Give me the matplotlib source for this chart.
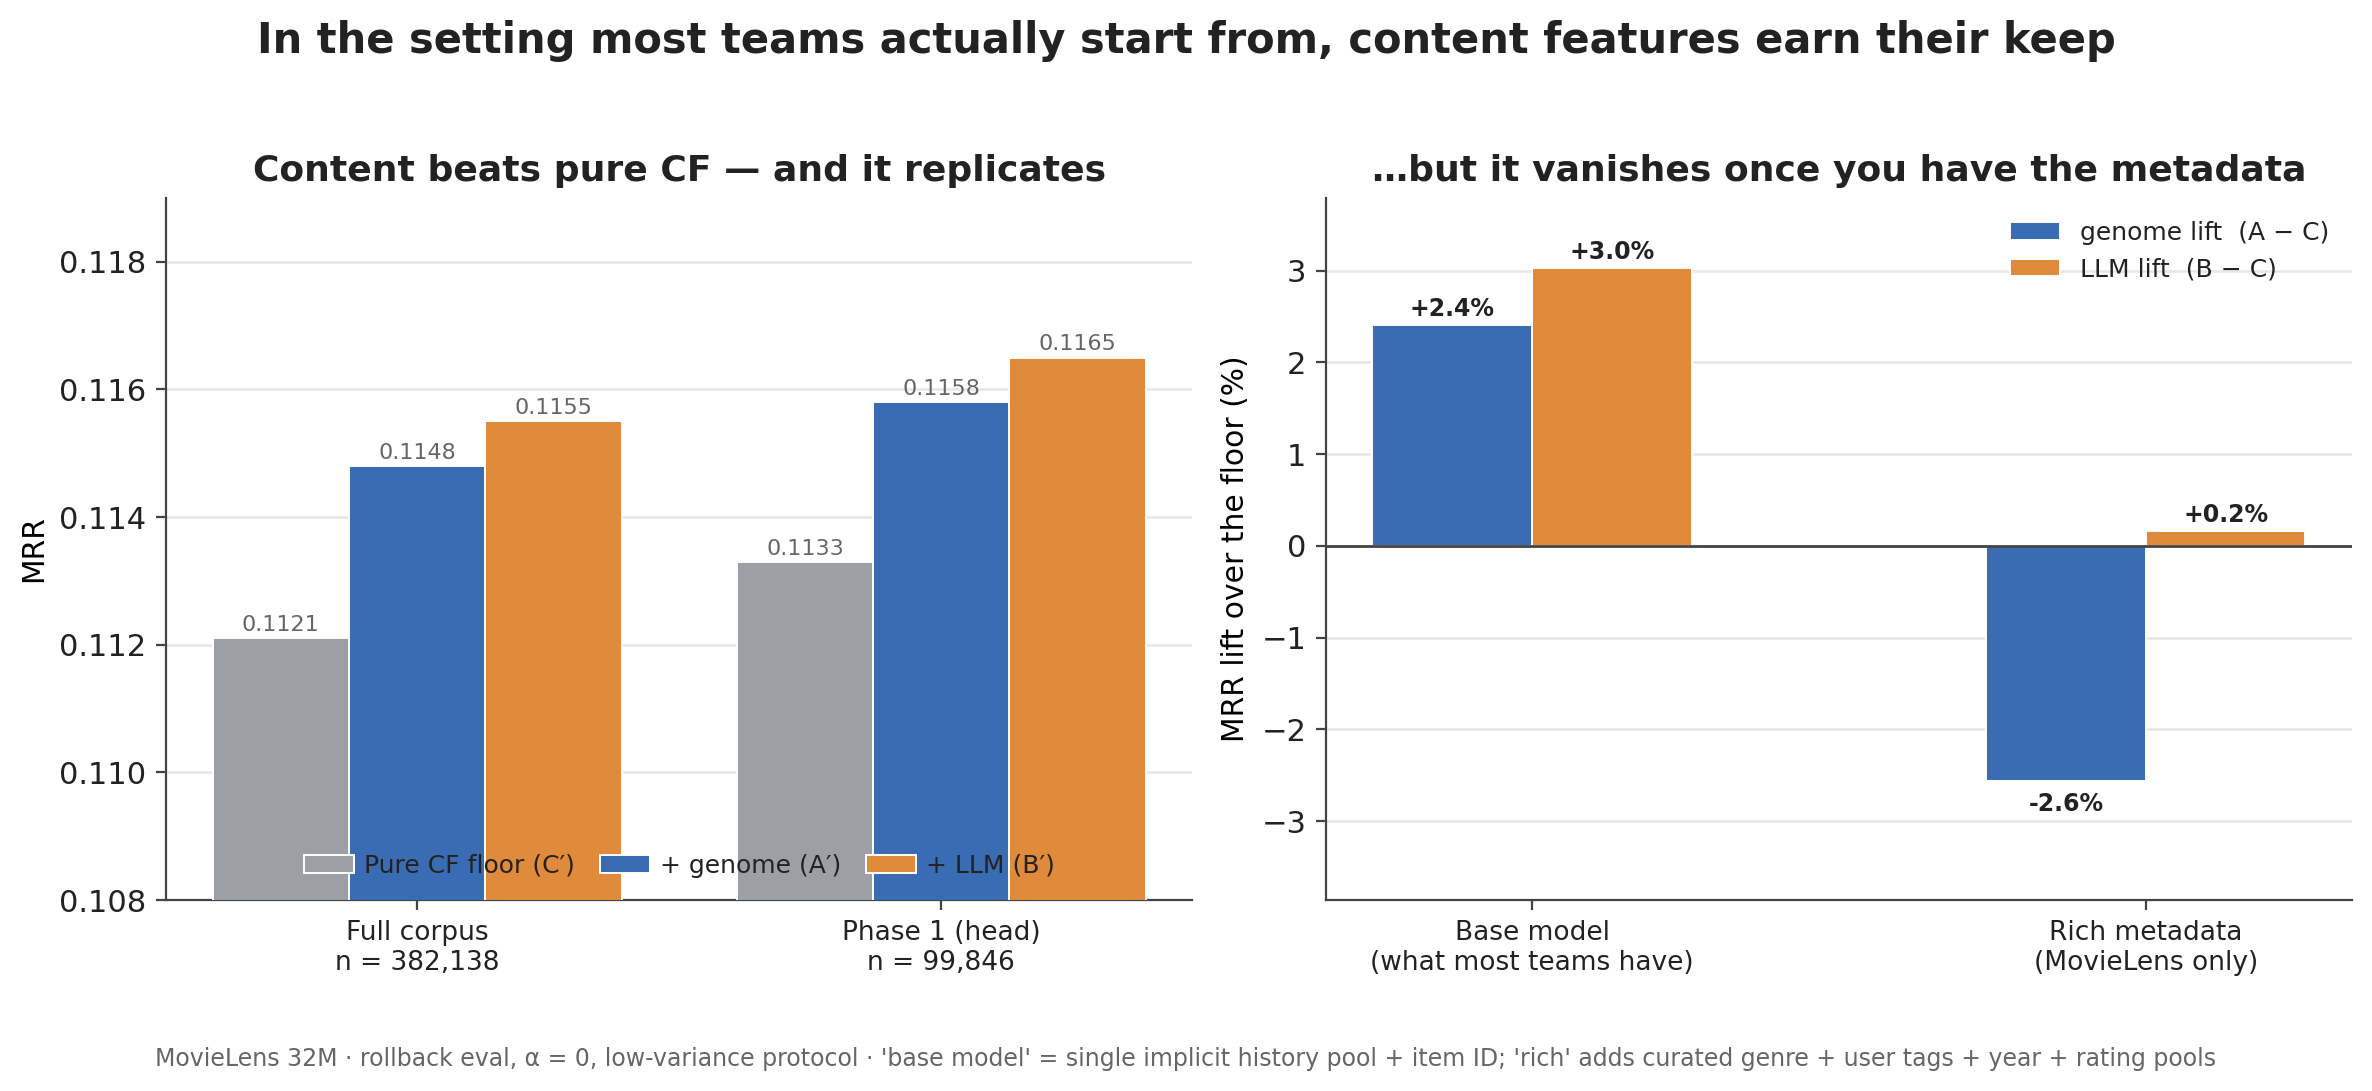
import matplotlib
matplotlib.use("Agg")
import matplotlib.pyplot as plt
import numpy as np

# data
groups_left = ["Full corpus\nn = 382,138", "Phase 1 (head)\nn = 99,846"]
mrr_floor = [0.1121, 0.1133]
mrr_genome = [0.1148, 0.1158]
mrr_llm = [0.1155, 0.1165]
series_left = ["Pure CF floor (C\u2032)", "+ genome (A\u2032)", "+ LLM (B\u2032)"]

groups_right = ["Base model\n(what most teams have)", "Rich metadata\n(MovieLens only)"]
lift_genome = [2.41, -2.56]
lift_llm = [3.03, 0.16]
series_right = ["genome lift  (A \u2212 C)", "LLM lift  (B \u2212 C)"]

GRAY = "#9ca0a6"
BLUE = "#3a6cb4"
ORANGE = "#e08a3c"
TXT = "#222222"

plt.rcParams["font.family"] = ["DejaVu Sans"]
plt.rcParams["text.color"] = TXT
plt.rcParams["axes.edgecolor"] = "#444444"
plt.rcParams["xtick.color"] = "#444444"
plt.rcParams["ytick.color"] = "#444444"
plt.rcParams["xtick.labelcolor"] = TXT
plt.rcParams["ytick.labelcolor"] = TXT

fig, (ax1, ax2) = plt.subplots(1, 2, figsize=(11.86, 5.455), dpi=200)
fig.subplots_adjust(left=0.070, right=0.9916, top=0.8185, bottom=0.175, wspace=0.13)

# ---- left panel
x = np.arange(len(groups_left))
w = 0.26
for vals, off, col, lab in [(mrr_floor, -w, GRAY, series_left[0]),
                            (mrr_genome, 0, BLUE, series_left[1]),
                            (mrr_llm, w, ORANGE, series_left[2])]:
    bars = ax1.bar(x + off, vals, w, color=col, edgecolor="white", linewidth=0.7,
                   label=lab, zorder=3)
    for b, v in zip(bars, vals):
        ax1.text(b.get_x() + b.get_width() / 2, v + 0.00005, f"{v:.4f}",
                 ha="center", va="bottom", fontsize=8, color="#666666")

ax1.set_ylim(0.108, 0.119)
ax1.set_yticks(np.arange(0.108, 0.1185, 0.002))
ax1.yaxis.set_major_formatter(matplotlib.ticker.FormatStrFormatter("%.3f"))
ax1.set_xticks(x)
ax1.set_xticklabels(groups_left, fontsize=9.5)
ax1.tick_params(axis="y", labelsize=11)
ax1.set_ylabel("MRR", fontsize=10.7)
ax1.set_title("Content beats pure CF \u2014 and it replicates", fontsize=13,
              fontweight="bold", pad=6)
ax1.grid(axis="y", color="#e6e6e6", linewidth=0.9, zorder=0)
ax1.spines["top"].set_visible(False)
ax1.spines["right"].set_visible(False)
ax1.legend(loc="lower center", ncol=3, frameon=False, fontsize=9,
           handlelength=2.0, handletextpad=0.4, columnspacing=1.0,
           borderaxespad=0.5)

# ---- right panel
x2 = np.arange(len(groups_right))
w2 = 0.26
for vals, off, col, lab in [(lift_genome, -w2 / 2, BLUE, series_right[0]),
                            (lift_llm, w2 / 2, ORANGE, series_right[1])]:
    bars = ax2.bar(x2 + off, vals, w2, color=col, edgecolor="white", linewidth=0.7,
                   label=lab, zorder=3)
    for b, v in zip(bars, vals):
        if v >= 0:
            ax2.text(b.get_x() + b.get_width() / 2, v + 0.04, f"+{v:.1f}%",
                     ha="center", va="bottom", fontsize=8.5, fontweight="bold")
        else:
            ax2.text(b.get_x() + b.get_width() / 2, v - 0.12, f"{v:.1f}%",
                     ha="center", va="top", fontsize=8.5, fontweight="bold")

ax2.axhline(0, color="#444444", linewidth=1.0, zorder=4)
ax2.set_ylim(-3.86, 3.79)
ax2.set_yticks([-3, -2, -1, 0, 1, 2, 3])
ax2.yaxis.set_major_formatter(matplotlib.ticker.FuncFormatter(
    lambda v, p: f"{int(v)}".replace("-", "\u2212")))
ax2.set_xticks(x2)
ax2.set_xticklabels(groups_right, fontsize=9.5)
ax2.tick_params(axis="y", labelsize=11)
ax2.set_ylabel("MRR lift over the floor (%)", fontsize=10.7)
ax2.set_title("\u2026but it vanishes once you have the metadata", fontsize=13,
              fontweight="bold", pad=6)
ax2.grid(axis="y", color="#e6e6e6", linewidth=0.9, zorder=0)
ax2.spines["top"].set_visible(False)
ax2.spines["right"].set_visible(False)
ax2.legend(loc="upper right", frameon=False, fontsize=9, handlelength=2.0)

fig.suptitle("In the setting most teams actually start from, content features earn their keep",
             fontsize=15, fontweight="bold", y=0.982)
fig.text(0.5, 0.029,
         "MovieLens 32M \u00b7 rollback eval, \u03b1 = 0, low-variance protocol \u00b7 "
         "'base model' = single implicit history pool + item ID; 'rich' adds curated "
         "genre + user tags + year + rating pools",
         ha="center", va="center", fontsize=8.5, color="#666666")

fig.savefig("out.png", dpi=200)
